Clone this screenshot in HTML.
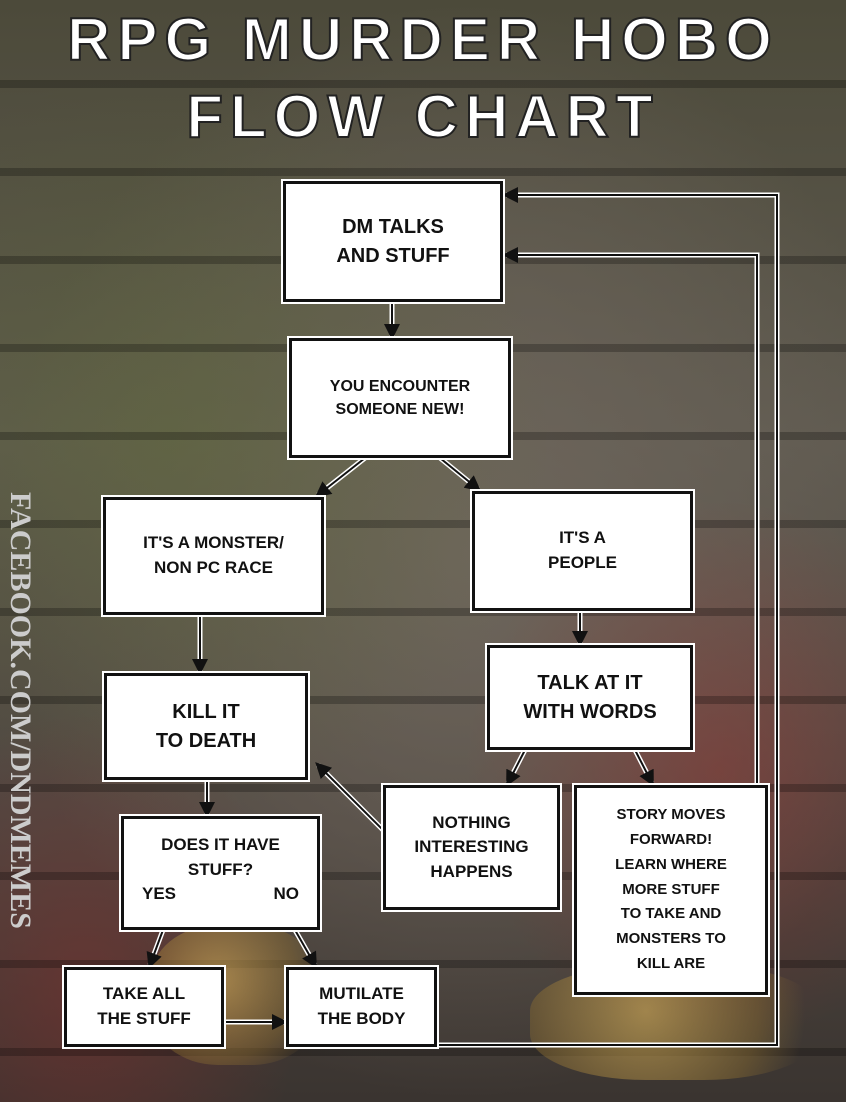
<!DOCTYPE html>
<html><head><meta charset="utf-8"><style>
body{margin:0}
#w{position:relative;width:846px;height:1102px;overflow:hidden;
background:
radial-gradient(ellipse at 20% 40%,rgba(90,110,40,.35),transparent 40%),
radial-gradient(ellipse at 85% 70%,rgba(170,40,40,.35),transparent 25%),
radial-gradient(ellipse at 10% 90%,rgba(160,40,40,.35),transparent 20%),
radial-gradient(ellipse at 55% 50%,#6e665c,transparent 70%),
linear-gradient(180deg,#4c4a3a 0%,#5f5a50 40%,#4e4640 75%,#3a3430 100%);
font-family:"Liberation Sans",sans-serif}
#br{position:absolute;inset:0;background:
repeating-linear-gradient(180deg,transparent 0 80px,rgba(0,0,0,.25) 80px 88px);}
.b{position:absolute;background:#fff;border:3px solid #111;outline:2px solid #fff;box-sizing:border-box;display:flex;align-items:center;justify-content:center;text-align:center;font-weight:bold;color:#111;line-height:1.45}
.t{position:absolute;left:0;width:846px;text-align:center;color:#fff;font-weight:bold;font-size:60px;letter-spacing:7px;-webkit-text-stroke:2px #222;font-family:"Liberation Sans",sans-serif}
.fb{position:absolute;left:-195px;top:690px;width:430px;transform:rotate(90deg);color:#ccc;font-family:"Liberation Serif",serif;font-weight:bold;font-size:30px;text-align:center}
.g{position:absolute;border-radius:40%;background:radial-gradient(circle at 40% 40%,rgba(220,180,90,.6),rgba(140,110,50,.45) 60%,transparent 85%)}
</style></head><body><div id="w">
<div id="br"></div>
<div class="g" style="left:150px;top:925px;width:170px;height:140px"></div>
<div class="g" style="left:530px;top:965px;width:290px;height:115px"></div>
<div class="t" style="top:5px">RPG MURDER HOBO</div>
<div class="t" style="top:82px">FLOW CHART</div>
<div class="fb">FACEBOOK.COM/DNDMEMES</div>
<svg width="846" height="1102" style="position:absolute;left:0;top:0">
<defs><marker id="a" markerWidth="8" markerHeight="8" refX="6" refY="4" orient="auto"><path d="M0,0 L8,4 L0,8z" fill="#111"/></marker></defs>
<g stroke="#fff" stroke-width="5" fill="none">
<path d="M437,1045 H777 V195 H506"/><path d="M768,985 H757 V255 H506"/>
<path d="M392,302 V336"/><path d="M365,458 L318,495"/><path d="M440,458 L478,489"/>
<path d="M200,615 V671"/><path d="M580,611 V643"/><path d="M525,750 L508,783"/><path d="M635,750 L652,783"/>
<path d="M207,780 V814"/><path d="M383,830 L318,765"/><path d="M163,930 L150,965"/><path d="M295,930 L315,965"/><path d="M224,1022 H284"/>
</g>
<g stroke="#111" stroke-width="2" fill="none" marker-end="url(#a)">
<path d="M437,1045 H777 V195 H506"/><path d="M768,985 H757 V255 H506"/>
<path d="M392,302 V336"/><path d="M365,458 L318,495"/><path d="M440,458 L478,489"/>
<path d="M200,615 V671"/><path d="M580,611 V643"/><path d="M525,750 L508,783"/><path d="M635,750 L652,783"/>
<path d="M207,780 V814"/><path d="M383,830 L318,765"/><path d="M163,930 L150,965"/><path d="M295,930 L315,965"/><path d="M224,1022 H284"/>
</g></svg>
<div class="b" style="left:283px;top:181px;width:220px;height:121px;font-size:20px">DM TALKS<br>AND STUFF</div>
<div class="b" style="left:289px;top:338px;width:222px;height:120px;font-size:16px">YOU ENCOUNTER<br>SOMEONE NEW!</div>
<div class="b" style="left:103px;top:497px;width:221px;height:118px;font-size:17px">IT'S A MONSTER/<br>NON PC RACE</div>
<div class="b" style="left:472px;top:491px;width:221px;height:120px;font-size:17px">IT'S A<br>PEOPLE</div>
<div class="b" style="left:104px;top:673px;width:204px;height:107px;font-size:20px">KILL IT<br>TO DEATH</div>
<div class="b" style="left:487px;top:645px;width:206px;height:105px;font-size:20px">TALK AT IT<br>WITH WORDS</div>
<div class="b" style="left:121px;top:816px;width:199px;height:114px;font-size:17px;display:block;padding-top:14px">DOES IT HAVE<br>STUFF?<div style="display:flex;justify-content:space-between;padding:0 18px">YES<span>NO</span></div></div>
<div class="b" style="left:383px;top:785px;width:177px;height:125px;font-size:17px">NOTHING<br>INTERESTING<br>HAPPENS</div>
<div class="b" style="left:574px;top:785px;width:194px;height:210px;font-size:15px;line-height:1.65">STORY MOVES<br>FORWARD!<br>LEARN WHERE<br>MORE STUFF<br>TO TAKE AND<br>MONSTERS TO<br>KILL ARE</div>
<div class="b" style="left:64px;top:967px;width:160px;height:80px;font-size:17px">TAKE ALL<br>THE STUFF</div>
<div class="b" style="left:286px;top:967px;width:151px;height:80px;font-size:17px">MUTILATE<br>THE BODY</div>
</div></body></html>
